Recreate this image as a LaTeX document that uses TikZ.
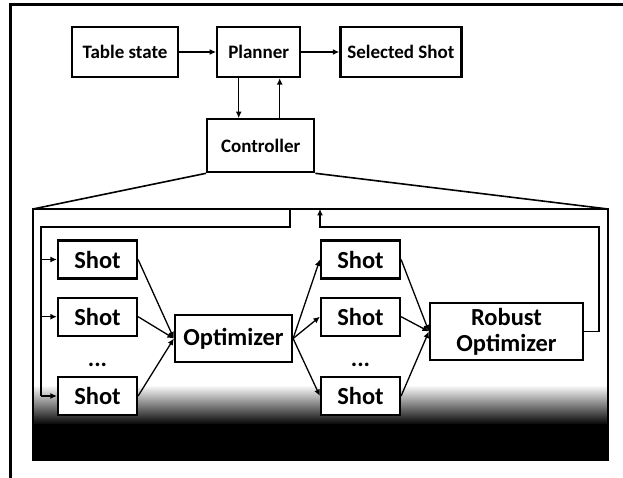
\documentclass[tikz,border=0pt]{standalone}
\usepackage{fontspec}
\setmainfont{Carlito}
\usetikzlibrary{positioning,arrows.meta}

\begin{document}
\begin{tikzpicture}[
    x=1pt, y=-1pt,
    block/.style={
      draw, line width=2.2pt, fill=white, text centered, inner sep=1pt,
      font=\fontsize{19}{21}\selectfont\bfseries
    },
    top/.style={block, minimum height=50pt},
    shot/.style={block, minimum width=79pt, minimum height=38pt,
      font=\fontsize{24.5}{26}\selectfont\bfseries},
    opt/.style={block, align=center, font=\fontsize{24.5}{26}\selectfont\bfseries},
    dots/.style={font=\fontsize{24}{25}\selectfont\bfseries},
    link/.style={line width=1.3pt},
    tip/.style={-{Latex[length=6.5pt,width=6pt]}},
  ]
    \useasboundingbox (0,0) rectangle (623,478);
    \clip (0,0) rectangle (623,478);
    \draw[line width=3pt] (10,5) rectangle (650,510);

    \node[top, minimum width=106pt](table) at (125,52) {Table state};
    \node[top, minimum width=83pt, right=37pt of table](planner){Planner};
    \node[top, minimum width=121pt, right=38pt of planner](selected){Selected Shot};
    \node[top, minimum width=107pt, minimum height=53pt, below=40pt of planner, xshift=2pt](controller){Controller};

    \coordinate (panel nw) at (33,209);
    \coordinate (panel ne) at (608,209);
    \coordinate (panel se) at (608,460);
    \shade[top color=white, bottom color=black] (33,385) rectangle (608,425);
    \fill[black] (33,424) rectangle (608,460);
    \draw[line width=2pt] (panel nw) rectangle (panel se);

    \node[shot](s1) at (97.5,259.5){Shot};
    \node[shot, below=17pt of s1](s2){Shot};
    \node[dots](dots1) at (97.5,365){...};
    \node[shot](s3) at (97.5,396){Shot};
    \node[opt, minimum width=117pt, minimum height=47pt](opt) at (233.5,338.5){Optimizer};

    \node[shot](r1) at (360.5,259.5){Shot};
    \node[shot, below=17pt of r1](r2){Shot};
    \node[dots](dots2) at (360.5,365){...};
    \node[shot](r3) at (360.5,396){Shot};
    \node[opt, minimum width=153pt, minimum height=57pt](robust) at (506.5,331.5){Robust\\Optimizer};

    \draw[tip, link] (table) -- (planner);
    \draw[tip, link] (planner) -- (selected);
    \draw[tip, link] ([xshift=-20pt]planner.south) -- ([xshift=-20pt]planner.south |- controller.north);
    \draw[tip, link] ([xshift=19pt]controller.north) -- ([xshift=19pt]controller.north |- planner.south);
    \draw[line width=1.6pt] (controller.south west) -- (panel nw);
    \draw[line width=1.6pt] (controller.south east) -- (panel ne);

    \coordinate (feed) at (290,209);
    \coordinate (bus) at (41,227);
    \coordinate (back) at (320,209);
    \draw[link] (feed) |- (bus) -- (bus |- s3.west);
    \foreach \s in {s1,s2,s3}
      \draw[tip, link] (bus |- \s.west) -- (\s);
    \foreach \s in {s1,s2,s3}
      \draw[tip, link] (\s.east) -- (opt.west);
    \foreach \s in {r1,r2,r3}{
      \draw[tip, link] (opt.east) -- (\s.west);
      \draw[tip, link] (\s.east) -- (robust.west);
    }
    \draw[tip, link] (robust.east) -- ++(15,0) |- (back |- bus) -- (back);
\end{tikzpicture}
\end{document}
